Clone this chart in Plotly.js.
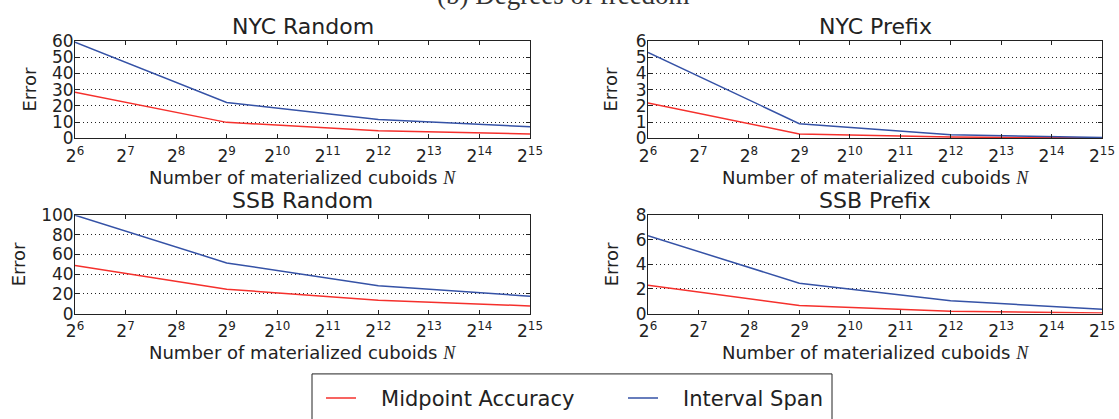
<!DOCTYPE html>
<html>
<head>
<meta charset="utf-8">
<script src="https://cdn.plot.ly/plotly-3.0.1.min.js"></script>
<style>
  html, body { margin: 0; padding: 0; background: #fff; }
  #chart { width: 1119px; height: 419px; }
</style>
</head>
<body>
<div id="chart"></div>
<script>
// ---- data ----
const cuboids = [64, 512, 4096, 32768];           // N = 2^6, 2^9, 2^12, 2^15
const xTickVals = [64, 128, 256, 512, 1024, 2048, 4096, 8192, 16384, 32768];
const xTickText = ["2<sup>6</sup>", "2<sup>7</sup>", "2<sup>8</sup>", "2<sup>9</sup>", "2<sup>10</sup>",
                   "2<sup>11</sup>", "2<sup>12</sup>", "2<sup>13</sup>", "2<sup>14</sup>", "2<sup>15</sup>"];

const panelTitles = ["NYC Random", "NYC Prefix", "SSB Random", "SSB Prefix"];
const seriesNames = ["Midpoint Accuracy", "Interval Span"];

const nycRandomMidpoint = [28.3, 9.8, 4.7, 2.7];
const nycRandomSpan     = [59.2, 22.0, 11.6, 7.1];
const nycPrefixMidpoint = [2.18, 0.27, 0.08, 0.02];
const nycPrefixSpan     = [5.29, 0.90, 0.22, 0.05];
const ssbRandomMidpoint = [48.9, 24.8, 13.4, 7.8];
const ssbRandomSpan     = [100, 51.5, 28.3, 17.6];
const ssbPrefixMidpoint = [2.31, 0.66, 0.18, 0.05];
const ssbPrefixSpan     = [6.33, 2.47, 1.05, 0.34];

const yMax   = [60, 6, 100, 8];
const yDtick = [10, 1, 20, 2];

// ---- layout geometry (px) ----
const W = 1119, H = 419;
const cols = [[75, 530], [648, 1102]];
const rows = [[42, 142], [221, 322]];
const yTitleOffset = [45, 37, 57, 37];

const RED = "#f5302c", BLUE = "#3552a6";
const FONT = "DejaVu Sans, sans-serif";

const midSeries  = [nycRandomMidpoint, nycPrefixMidpoint, ssbRandomMidpoint, ssbPrefixMidpoint];
const spanSeries = [nycRandomSpan, nycPrefixSpan, ssbRandomSpan, ssbPrefixSpan];

const traces = [];
const layout = {
  width: W, height: H,
  margin: {l: 0, r: 0, t: 0, b: 0},
  paper_bgcolor: "#fff", plot_bgcolor: "#fff",
  font: {family: FONT, size: 17, color: "#222"},
  showlegend: true,
  legend: {
    orientation: "h",
    x: 321 / W, xanchor: "left",
    y: 1 - 388 / H, yanchor: "top",
    borderwidth: 0,
    font: {family: FONT, size: 21, color: "#222"},
    entrywidth: 257, entrywidthmode: "pixels",
    bgcolor: "rgba(0,0,0,0)"
  },
  shapes: [{
    type: "rect", xref: "paper", yref: "paper",
    x0: 312 / W, x1: 832 / W, y0: -0.05, y1: 1 - 384 / H,
    line: {color: "#222", width: 1}, fillcolor: "rgba(0,0,0,0)", layer: "below"
  }],
  annotations: [],
};

for (let i = 0; i < 4; i++) {
  const r = Math.floor(i / 2), c = i % 2;
  const ax = i === 0 ? "" : String(i + 1);
  const xd = [cols[c][0] / W, cols[c][1] / W];
  const yd = [1 - rows[r][1] / H, 1 - rows[r][0] / H];

  traces.push({
    x: cuboids, y: midSeries[i], type: "scatter", mode: "lines",
    name: "\u00a0\u00a0\u00a0" + seriesNames[0], legendgroup: "mid", showlegend: i === 0,
    line: {color: RED, width: 1.5}, xaxis: "x" + ax, yaxis: "y" + ax
  });
  traces.push({
    x: cuboids, y: spanSeries[i], type: "scatter", mode: "lines",
    name: "\u00a0\u00a0\u00a0" + seriesNames[1], legendgroup: "span", showlegend: i === 0,
    line: {color: BLUE, width: 1.5}, xaxis: "x" + ax, yaxis: "y" + ax
  });

  const yt = [];
  for (let v = 0; v <= yMax[i] + 1e-9; v += yDtick[i]) yt.push(v);

  layout["xaxis" + ax] = {
    domain: xd, anchor: "y" + ax, type: "log",
    range: [Math.log10(64), Math.log10(32768)],
    tickmode: "array", tickvals: xTickVals, ticktext: xTickText,
    ticks: "inside", ticklen: 4, tickcolor: "#222", tickwidth: 1,
    showline: true, linecolor: "#222", linewidth: 1, mirror: "ticks",
    showgrid: false, zeroline: false, ticklabelstandoff: 2,
    tickfont: {family: FONT, size: 17, color: "#222"},
    fixedrange: true
  };
  layout["yaxis" + ax] = {
    domain: yd, anchor: "x" + ax,
    range: [0, yMax[i]],
    tickmode: "array", tickvals: yt,
    ticks: "inside", ticklen: 4, tickcolor: "#222", tickwidth: 1,
    showline: true, linecolor: "#222", linewidth: 1, mirror: "ticks",
    showgrid: true, gridcolor: "#222", gridwidth: 1, griddash: "1px,3px",
    zeroline: false, ticklabelstandoff: -3,
    tickfont: {family: FONT, size: 17, color: "#222"},
    fixedrange: true
  };

  const cx = (cols[c][0] + cols[c][1]) / 2 / W;
  // subplot title
  layout.annotations.push({
    text: panelTitles[i], xref: "paper", yref: "paper",
    x: cx, y: 1 - (rows[r][0] - 15) / H, xanchor: "center", yanchor: "middle",
    showarrow: false, font: {family: FONT, size: 22, color: "#222"}
  });
  // x axis title
  layout.annotations.push({
    text: "Number of materialized cuboids <i><span style=\"font-family:'Liberation Serif',serif\">N</span></i>",
    xref: "paper", yref: "paper",
    x: cx, y: 1 - (rows[r][1] + 40) / H, xanchor: "center", yanchor: "middle",
    showarrow: false, font: {family: FONT, size: 18, color: "#222"}
  });
  // y axis title
  layout.annotations.push({
    text: "Error", xref: "paper", yref: "paper", textangle: -90,
    x: (cols[c][0] - yTitleOffset[i]) / W, y: 1 - (rows[r][0] + rows[r][1]) / 2 / H,
    xanchor: "center", yanchor: "middle",
    showarrow: false, font: {family: FONT, size: 18, color: "#222"}
  });
}

// figure caption, mostly cut off at top
layout.annotations.push({
  text: "(b) Degrees of freedom", xref: "paper", yref: "paper",
  x: 563 / W, y: 1 + 5 / H, xanchor: "center", yanchor: "middle",
  showarrow: false, font: {family: "Liberation Serif, serif", size: 27, color: "#333"}
});

Plotly.newPlot("chart", traces, layout, {displayModeBar: false, staticPlot: true});
</script>
</body>
</html>
